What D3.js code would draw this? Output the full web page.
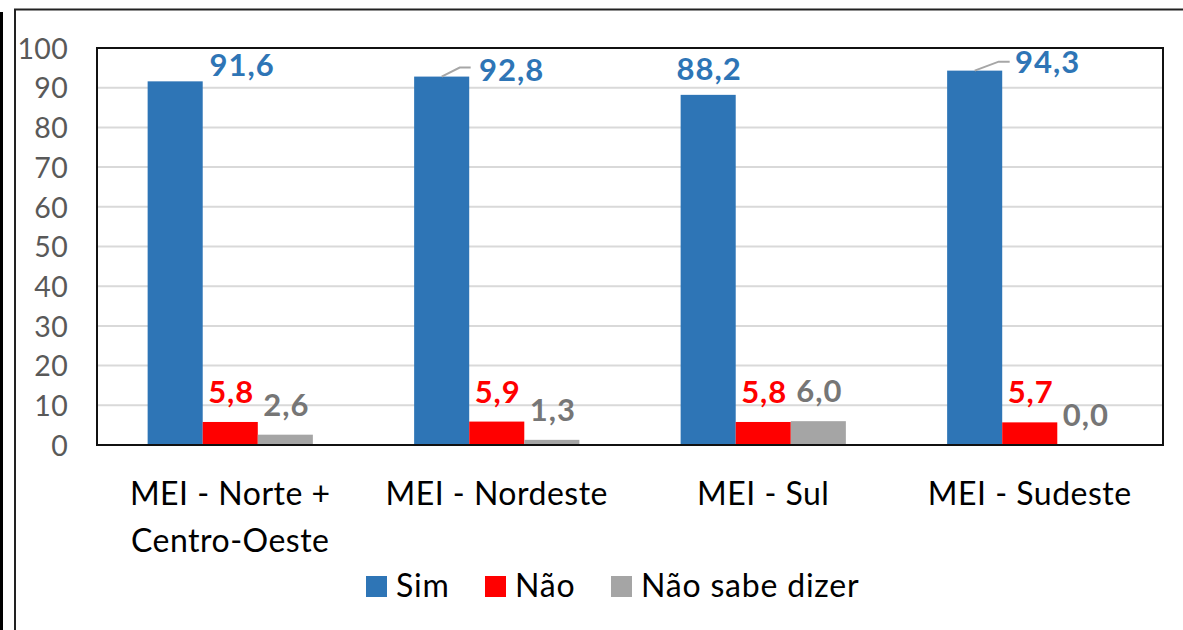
<!DOCTYPE html>
<html lang="pt">
<head>
    <meta charset="UTF-8">
    <title>MEI por região</title>
    <script src="https://cdn.jsdelivr.net/npm/d3@7/dist/d3.min.js"></script>
    <style>
        body{
            margin: 0;
            background: #fff;
        }
        svg text{
            font-family: Lato, "Open Sans", sans-serif;
        }
    </style>
</head>
<body>
    <svg id="main-svg" width="1183" height="630"></svg>

    <script>
        // data
        const categories = ['MEI - Norte + Centro-Oeste', 'MEI - Nordeste', 'MEI - Sul', 'MEI - Sudeste'];
        const categoryLines = [['MEI - Norte +', 'Centro-Oeste'], ['MEI - Nordeste'], ['MEI - Sul'], ['MEI - Sudeste']];
        const seriesNames = ['Sim', 'Não', 'Não sabe dizer'];
        const simValues = [91.6, 92.8, 88.2, 94.3];
        const naoValues = [5.8, 5.9, 5.8, 5.7];
        const naoSabeValues = [2.6, 1.3, 6.0, 0.0];
        const yTicks = [0, 10, 20, 30, 40, 50, 60, 70, 80, 90, 100];

        const colors = ['#2E75B6', '#FF0000', '#A5A5A5'];
        const labelColors = ['#2E75B6', '#FF0000', '#767676'];

        const series = [simValues, naoValues, naoSabeValues];
        const fmt = v => v.toFixed(1).replace('.', ',');

        const svg = d3.select('#main-svg');

        // outer frame pieces (cropped in the reference)
        svg.append('line').attr('x1', 1.5).attr('x2', 1.5).attr('y1', 12).attr('y2', 630)
            .attr('stroke', '#000').attr('stroke-width', 3);
        svg.append('path').attr('d', 'M15,630 V9.5 H1183')
            .attr('fill', 'none').attr('stroke', '#222').attr('stroke-width', 2);

        const plot = {left: 97, top: 48, right: 1163, bottom: 445};

        const x0 = d3.scaleBand()
            .domain(categories)
            .range([plot.left, plot.right])
            .paddingInner(0.38)
            .paddingOuter(0.19);

        const x1 = d3.scaleBand()
            .domain(seriesNames)
            .range([0, x0.bandwidth()]);

        const y = d3.scaleLinear()
            .domain([0, 100])
            .range([plot.bottom, plot.top]);

        // gridlines
        svg.append('g')
            .selectAll('line')
            .data(yTicks.filter(t => t > 0 && t < 100))
            .enter()
            .append('line')
            .attr('x1', plot.left)
            .attr('x2', plot.right)
            .attr('y1', d => y(d))
            .attr('y2', d => y(d))
            .attr('stroke', '#d9d9d9')
            .attr('stroke-width', 2);

        // y axis labels
        const yAxis = d3.axisLeft(y).tickValues(yTicks).tickSize(0).tickPadding(0);
        const yg = svg.append('g')
            .attr('transform', 'translate(68,0)')
            .call(yAxis);
        yg.select('.domain').remove();
        yg.selectAll('text')
            .attr('fill', '#595959')
            .style('font-size', '28.5px')
            .style('letter-spacing', '0.3px')
            .attr('dy', '0.36em');

        // bars
        const groups = svg.append('g')
            .selectAll('g')
            .data(categories)
            .enter()
            .append('g')
            .attr('transform', d => 'translate(' + x0(d) + ',0)');

        groups.selectAll('rect')
            .data((d, i) => series.map((s, j) => ({name: seriesNames[j], value: s[i], j: j, i: i})))
            .enter()
            .append('rect')
            .attr('x', d => x1(d.name))
            .attr('y', d => y(d.value))
            .attr('width', x1.bandwidth())
            .attr('height', d => y(0) - y(d.value))
            .attr('fill', d => colors[d.j]);

        // value labels
        groups.selectAll('text.val')
            .data((d, i) => series.map((s, j) => ({name: seriesNames[j], value: s[i], j: j, i: i})))
            .enter()
            .append('text')
            .classed('val', true)
            .attr('x', d => {
                let cx = x1(d.name) + x1.bandwidth() / 2 + 1;
                if(d.j === 0 && d.i !== 2) cx += (d.i === 3 ? 72 : (d.i === 1 ? 69 : 66));
                return cx;
            })
            .attr('y', d => {
                let top = y(d.value);
                if(d.j === 0){
                    if(d.i === 0) return top - 5;
                    if(d.i === 1) return top + 4;
                    if(d.i === 3) return top + 2;
                    return top - 15;
                }
                return top - 19;
            })
            .attr('text-anchor', 'middle')
            .attr('fill', d => labelColors[d.j])
            .style('font-size', '31px')
            .style('font-weight', 'bold')
            .style('letter-spacing', '1px')
            .text(d => fmt(d.value));

        // leader lines for moved labels
        groups.selectAll('path.leader')
            .data((d, i) => (i === 1 || i === 3) ? [{value: simValues[i], i: i}] : [])
            .enter()
            .append('path')
            .classed('leader', true)
            .attr('d', d => {
                let bx = x1('Sim') + x1.bandwidth() / 2;
                let by = y(d.value);
                let dx = d.i === 3 ? 24 : 18;
                return 'M' + bx + ',' + by + ' L' + (bx + dx) + ',' + (by - 9) + ' H' + (bx + dx + 11);
            })
            .attr('fill', 'none')
            .attr('stroke', '#a6a6a6')
            .attr('stroke-width', 2);

        // plot frame
        svg.append('rect')
            .attr('x', plot.left)
            .attr('y', plot.top)
            .attr('width', plot.right - plot.left)
            .attr('height', plot.bottom - plot.top)
            .attr('fill', 'none')
            .attr('stroke', '#111')
            .attr('stroke-width', 2);

        // category labels
        svg.append('g')
            .selectAll('text')
            .data(categories)
            .enter()
            .append('text')
            .attr('x', d => x0(d) + x0.bandwidth() / 2)
            .attr('y', 505)
            .attr('text-anchor', 'middle')
            .attr('fill', '#000')
            .style('font-size', '32px')
            .style('letter-spacing', '0.5px')
            .selectAll('tspan')
            .data((d, i) => categoryLines[i])
            .enter()
            .append('tspan')
            .attr('x', function(){ return d3.select(this.parentNode).attr('x'); })
            .attr('dy', (d, i) => i === 0 ? 0 : 47)
            .text(d => d);

        // legend
        const legendX = [366, 485, 611];
        const legend = svg.append('g')
            .selectAll('g')
            .data(seriesNames)
            .enter()
            .append('g')
            .attr('transform', (d, i) => 'translate(' + legendX[i] + ',576)');

        legend.append('rect')
            .attr('width', 21)
            .attr('height', 21)
            .attr('fill', (d, i) => colors[i]);

        legend.append('text')
            .attr('x', 30)
            .attr('y', 21)
            .attr('fill', '#000')
            .style('font-size', '32px')
            .style('letter-spacing', '0.8px')
            .text(d => d);
    </script>
</body>
</html>
